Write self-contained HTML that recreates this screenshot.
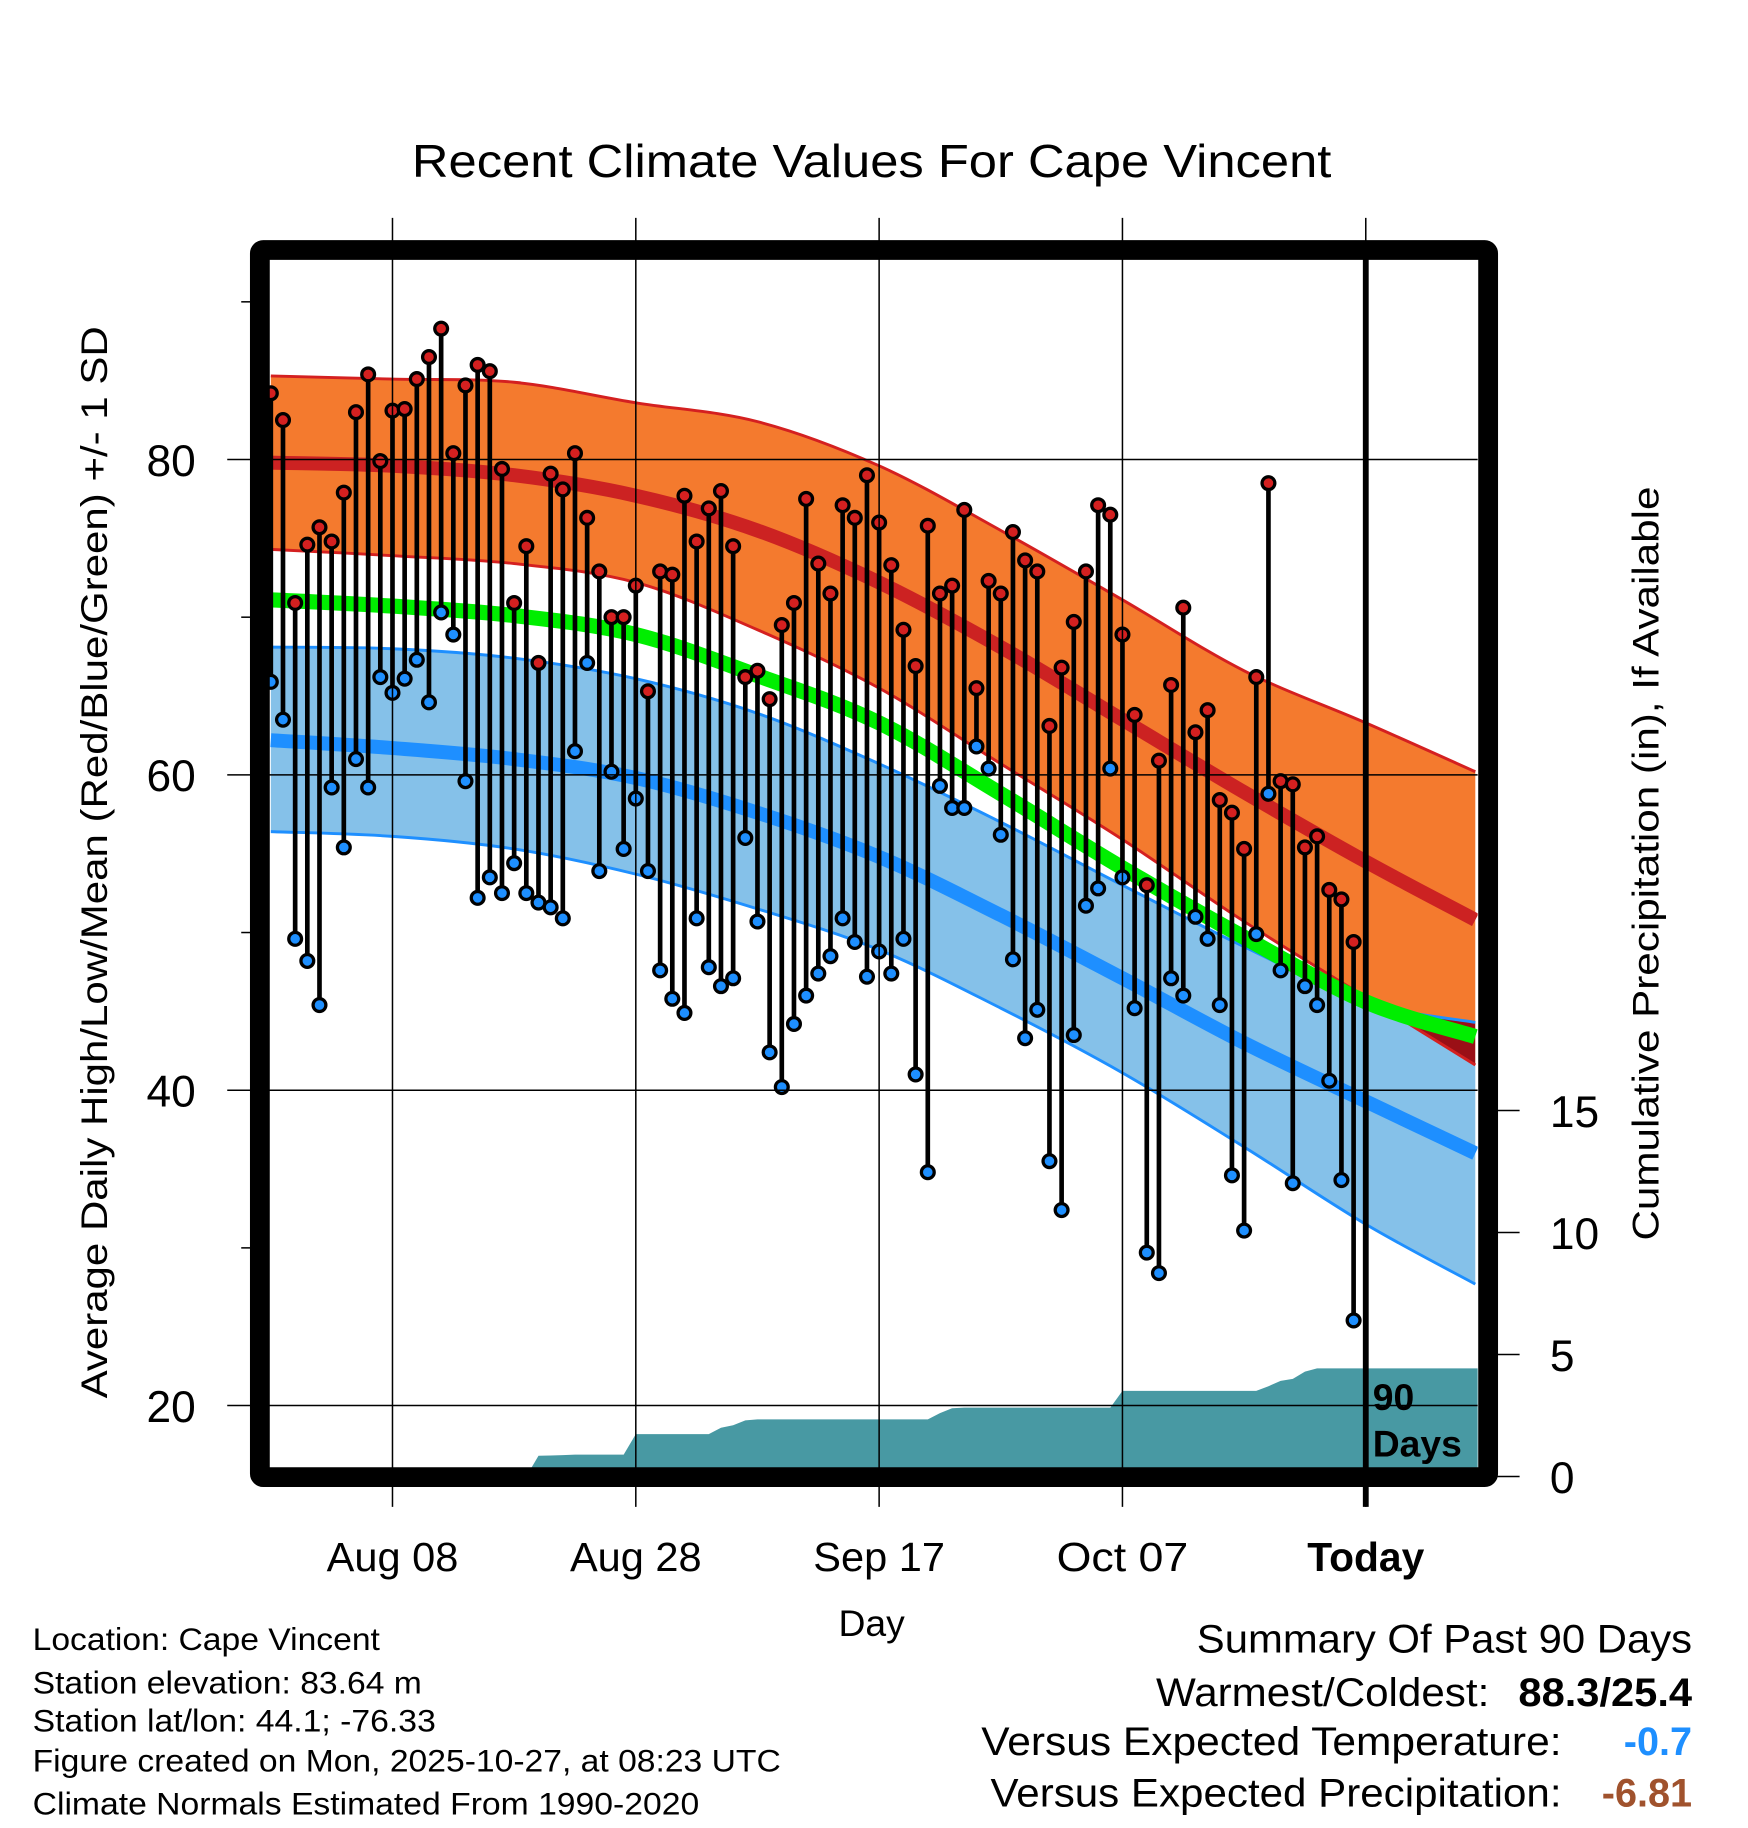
<!DOCTYPE html>
<html><head><meta charset="utf-8"><style>
html,body{margin:0;padding:0;background:#fff}
svg{display:block;font-family:"Liberation Sans",sans-serif}
</style></head><body>
<svg id="chart" width="1748" height="1828" viewBox="0 0 1500 1568.6" preserveAspectRatio="none" xmlns="http://www.w3.org/2000/svg">
<defs>
<clipPath id="plotClip"><rect x="231" y="223" width="1037" height="1036"/></clipPath>
<clipPath id="highBandClip"><path id="highBandClipPath" d=""/></clipPath>
</defs>
<text x="748" y="152" font-size="40" text-anchor="middle" textLength="789" lengthAdjust="spacingAndGlyphs">Recent Climate Values For Cape Vincent</text>
<g id="plot" clip-path="url(#plotClip)"></g>
<g id="overlay"></g>
<text transform="translate(92,740) rotate(-90)" font-size="32" text-anchor="middle" textLength="920" lengthAdjust="spacingAndGlyphs">Average Daily High/Low/Mean (Red/Blue/Green) +/- 1 SD</text>
<text transform="translate(1423,741) rotate(-90)" font-size="32" text-anchor="middle" textLength="647" lengthAdjust="spacingAndGlyphs">Cumulative Precipitation (in), If Available</text>
<text x="748" y="1404" font-size="32" text-anchor="middle">Day</text>
<g font-size="27">
<text x="28" y="1416" textLength="298" lengthAdjust="spacingAndGlyphs">Location: Cape Vincent</text>
<text x="28" y="1453" textLength="334" lengthAdjust="spacingAndGlyphs">Station elevation: 83.64 m</text>
<text x="28" y="1486" textLength="346" lengthAdjust="spacingAndGlyphs">Station lat/lon: 44.1; -76.33</text>
<text x="28" y="1520" textLength="642" lengthAdjust="spacingAndGlyphs">Figure created on Mon, 2025-10-27, at 08:23 UTC</text>
<text x="28" y="1557" textLength="572" lengthAdjust="spacingAndGlyphs">Climate Normals Estimated From 1990-2020</text>
</g>
<g font-size="34">
<text x="1452" y="1418" text-anchor="end" textLength="425" lengthAdjust="spacingAndGlyphs">Summary Of Past 90 Days</text>
<text x="1278" y="1464" text-anchor="end" textLength="286" lengthAdjust="spacingAndGlyphs">Warmest/Coldest:</text>
<text x="1452" y="1464" text-anchor="end" font-weight="bold" textLength="149" lengthAdjust="spacingAndGlyphs">88.3/25.4</text>
<text x="1340" y="1506" text-anchor="end" textLength="498" lengthAdjust="spacingAndGlyphs">Versus Expected Temperature:</text>
<text x="1452" y="1506" text-anchor="end" font-weight="bold" fill="#1e8fff">-0.7</text>
<text x="1340" y="1550" text-anchor="end" textLength="490" lengthAdjust="spacingAndGlyphs">Versus Expected Precipitation:</text>
<text x="1452" y="1550" text-anchor="end" font-weight="bold" fill="#a0522d">-6.81</text>
</g>
</svg>
<script>
// ---- data ----
const highs=[84.2,82.5,70.9,74.6,75.7,74.8,77.9,83.0,85.4,79.9,83.1,83.2,85.1,86.5,88.3,80.4,84.7,86.0,85.6,79.4,70.9,74.5,67.1,79.1,78.1,80.4,76.3,72.9,70.0,70.0,72.0,65.3,72.9,72.7,77.7,74.8,76.9,78.0,74.5,66.2,66.6,64.8,69.5,70.9,77.5,73.4,71.5,77.1,76.3,79.0,76.0,73.3,69.2,66.9,75.8,71.5,72.0,76.8,65.5,72.3,71.5,75.4,73.6,72.9,63.1,66.8,69.7,72.9,77.1,76.5,68.9,63.8,53.0,60.9,65.7,70.6,62.7,64.1,58.4,57.6,55.3,66.2,78.5,59.6,59.4,55.4,56.1,52.7,52.1,49.4];
const lows=[65.9,63.5,49.6,48.2,45.4,59.2,55.4,61.0,59.2,66.2,65.2,66.1,67.3,64.6,70.3,68.9,59.6,52.2,53.5,52.5,54.4,52.5,51.9,51.6,50.9,61.5,67.1,53.9,60.2,55.3,58.5,53.9,47.6,45.8,44.9,50.9,47.8,46.6,47.1,56.0,50.7,42.4,40.2,44.2,46.0,47.4,48.5,50.9,49.4,47.2,48.8,47.4,49.6,41.0,34.8,59.3,57.9,57.9,61.8,60.4,56.2,48.3,43.3,45.1,35.5,32.4,43.5,51.7,52.8,60.4,53.5,45.2,29.7,28.4,47.1,46.0,51.0,49.6,45.4,34.6,31.1,49.9,58.8,47.6,34.1,46.6,45.4,40.6,34.3,25.4];
const precip=[0,0,0,0,0,0,0,0,0,0,0,0,0,0,0,0,0,0,0,0,0,0,0.85,0.86,0.88,0.9,0.9,0.9,0.9,0.9,1.74,1.74,1.74,1.74,1.74,1.74,1.74,2.0,2.1,2.3,2.34,2.34,2.34,2.34,2.34,2.34,2.34,2.34,2.34,2.34,2.34,2.34,2.34,2.34,2.34,2.6,2.8,2.82,2.82,2.82,2.82,2.82,2.82,2.82,2.82,2.82,2.82,2.82,2.82,2.82,3.51,3.51,3.51,3.51,3.51,3.51,3.51,3.51,3.51,3.51,3.51,3.51,3.7,3.92,4.0,4.3,4.43,4.43,4.43,4.43];
const normDays=[-90,-80,-70,-60,-50,-40,-30,-20,-10,0,9];
const normHigh=[79.8,79.6,79.0,77.7,75.5,72.2,68.1,63.5,58.9,54.5,50.8];
const normHighUp=[85.3,85.1,84.9,83.6,82.4,79.6,75.5,71.1,66.6,63.3,60.2];
const normHighLo=[74.3,73.9,73.4,72.2,69.2,65.5,60.7,55.9,50.7,45.9,41.6];
const normMean=[71.1,70.7,70.1,68.9,66.3,63.3,58.8,54.1,49.7,45.6,43.4];
const normLow=[62.2,61.7,61.0,59.8,57.6,54.8,51.1,47.1,43.0,39.3,36.0];
const normLowUp=[68.1,68.0,67.4,66.1,63.9,60.7,57.0,53.0,49.1,45.6,44.3];
const normLowLo=[56.4,56.1,55.3,53.7,51.5,48.9,45.2,41.1,36.4,31.5,27.7];
const yTicks=[20,40,60,80];
const yMinor=[30,50,70,90];
const pTicks=[0,5,10,15];
const xTickDays=[-80,-60,-40,-20,0];
const xTickLabels=["Aug 08","Aug 28","Sep 17","Oct 07","Today"];
const firstDay=-90;

// ---- scales ----
const X=d=>1172+d*10.44;
const Y=v=>394.3+(80-v)*13.53;
const P=p=>1267-p*20.94;
const NS="http://www.w3.org/2000/svg";
function mk(tag,attrs,parent){const e=document.createElementNS(NS,tag);for(const k in attrs)e.setAttribute(k,attrs[k]);parent.appendChild(e);return e;}
const plot=document.getElementById('plot');
const over=document.getElementById('overlay');
const svg=document.getElementById('chart');
function pts(arr){return normDays.map((d,i)=>[X(d),Y(arr[i])]);}
function smooth(p){
  let d='';
  for(let i=0;i<p.length-1;i++){
    const p0=p[Math.max(0,i-1)],p1=p[i],p2=p[i+1],p3=p[Math.min(p.length-1,i+2)];
    const c1=[p1[0]+(p2[0]-p0[0])/6,p1[1]+(p2[1]-p0[1])/6];
    const c2=[p2[0]-(p3[0]-p1[0])/6,p2[1]-(p3[1]-p1[1])/6];
    d+='C'+c1[0].toFixed(1)+','+c1[1].toFixed(1)+' '+c2[0].toFixed(1)+','+c2[1].toFixed(1)+' '+p2[0].toFixed(1)+','+p2[1].toFixed(1);
  }
  return d;
}
function lineD(arr){const p=pts(arr);return 'M'+p[0][0]+','+p[0][1]+smooth(p);}
function bandD(up,lo){const a=pts(up);const b=pts(lo).reverse();return 'M'+a[0][0]+','+a[0][1]+smooth(a)+'L'+b[0][0]+','+b[0][1]+smooth(b)+'Z';}

let e;
e=mk('path',{d:bandD(normLowUp,normLowLo),fill:'#85c1e9'},plot);

e=mk('path',{d:bandD(normHighUp,normHighLo),fill:'#f47a2e'},plot);

document.getElementById('highBandClipPath').setAttribute('d',bandD(normHighUp,normHighLo));
e=mk('path',{d:bandD(normLowUp,normLowLo),fill:'#9a0f16','clip-path':'url(#highBandClip)'},plot);

[[normHighUp,'#d42020',2.5,'high-sd-upper'],[normHighLo,'#d42020',2.5,'high-sd-lower'],[normLowUp,'#1e8fff',2.5,'low-sd-upper'],[normLowLo,'#1e8fff',2.5,'low-sd-lower'],[normMean,'#00ee00',13,'normal-mean-line'],[normLow,'#1e8fff',12,'normal-low-line'],[normHigh,'#cc2222',12,'normal-high-line']].forEach(s=>{
  const l=mk('path',{d:lineD(s[0]),fill:'none',stroke:s[1],'stroke-width':s[2]},plot);
  
  
});
yTicks.forEach(v=>{const g=mk('line',{x1:195,x2:1268,y1:Y(v),y2:Y(v),stroke:'#000','stroke-width':1.3},svg);
  
  const t=mk('text',{x:168,y:Y(v)+14,'font-size':38,'text-anchor':'end'},svg);t.textContent=v;
  });
yMinor.forEach(v=>{const g=mk('line',{x1:207,x2:216,y1:Y(v),y2:Y(v),stroke:'#000','stroke-width':1.3},svg);
  });
xTickDays.forEach((d,i)=>{
  const g=mk('line',{x1:X(d),x2:X(d),y1:187,y2:1293,stroke:'#000','stroke-width':1.3},svg);
  
  const t=mk('text',{x:X(d),y:1348,'font-size':35,'text-anchor':'middle','font-weight':d===0?'bold':'normal'},svg);t.textContent=xTickLabels[i];
  if(d!==0){t.setAttribute('textLength','113');t.setAttribute('lengthAdjust','spacingAndGlyphs');}
  });
pTicks.forEach(p=>{const g=mk('line',{x1:1284,x2:1304,y1:P(p),y2:P(p),stroke:'#000','stroke-width':1.3},svg);
  
  const t=mk('text',{x:1330,y:P(p)+14,'font-size':38},svg);t.textContent=p;
  });
let pd='M231,1270';
precip.forEach((p,i)=>{pd+='L'+X(firstDay+i).toFixed(1)+','+P(p).toFixed(1);});
pd+='L1268,'+P(precip[precip.length-1]).toFixed(1)+'L1268,1270Z';
e=mk('path',{d:pd,fill:'#4899a3'},over);

highs.forEach((h,i)=>{
  const x=X(firstDay+i);
  const s=mk('line',{x1:x,x2:x,y1:Y(h),y2:Y(lows[i]),stroke:'#000','stroke-width':4},over);
  
  
});
highs.forEach((h,i)=>{
  const x=X(firstDay+i);
  const a=mk('circle',{cx:x,cy:Y(h),r:5.5,fill:'#d42020',stroke:'#000','stroke-width':2.8},over);
  
  
  const b=mk('circle',{cx:x,cy:Y(lows[i]),r:5.5,fill:'#1e8fff',stroke:'#000','stroke-width':2.8},over);
  
  
});
e=mk('line',{x1:X(0),x2:X(0),y1:214,y2:1293,stroke:'#000','stroke-width':5},over);

e=mk('text',{x:1178,y:1210,'font-size':32,'font-weight':'bold'},over);e.textContent='90';

e=mk('text',{x:1178,y:1250,'font-size':32,'font-weight':'bold'},over);e.textContent='Days';

e=mk('rect',{x:223,y:214.5,width:1054,height:1053,fill:'none',stroke:'#000','stroke-width':17,rx:3},over);

</script>
</body></html>
